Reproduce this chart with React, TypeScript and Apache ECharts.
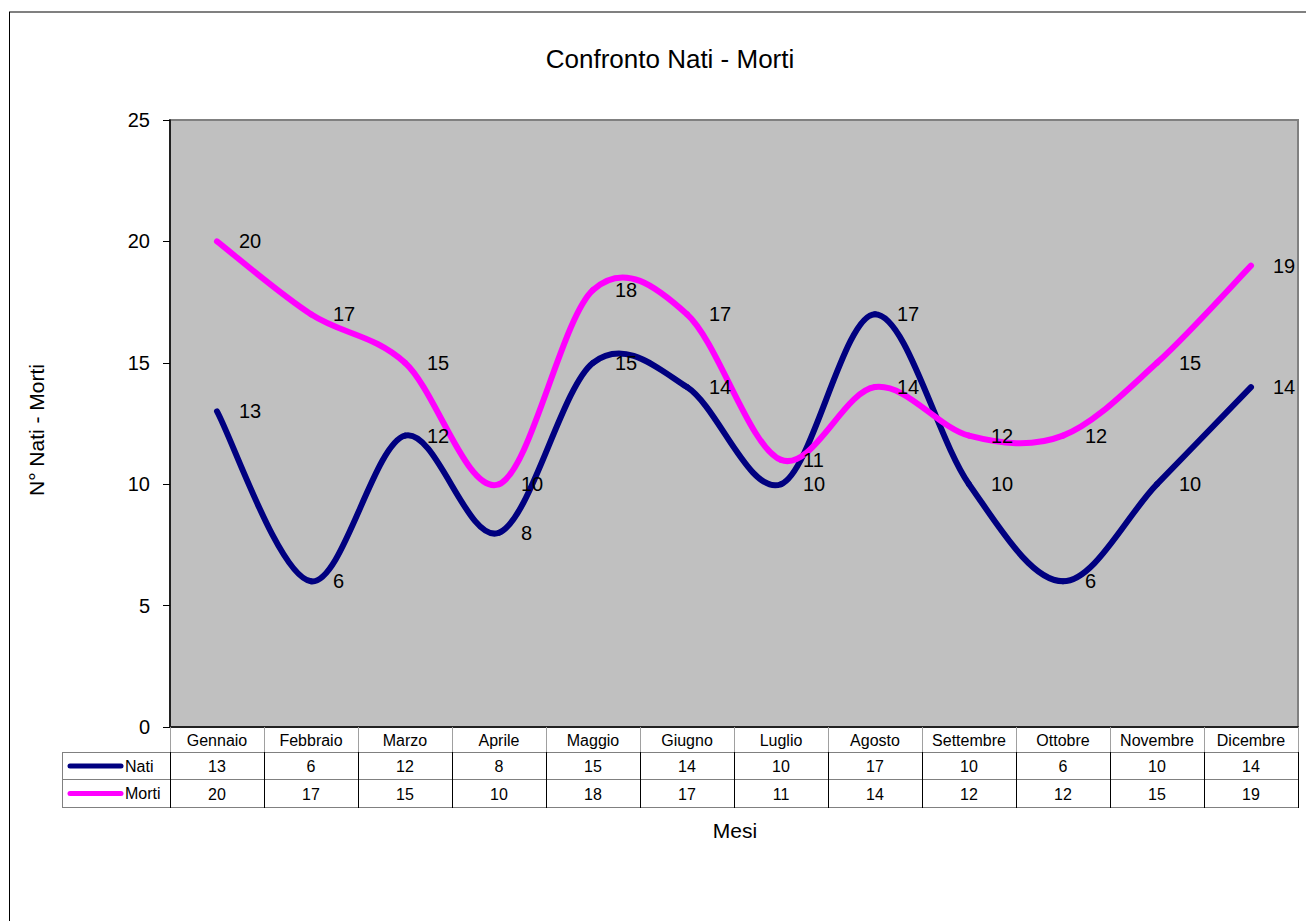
import React, { useEffect, useRef } from "react";
import * as echarts from "echarts";

const months = ["Gennaio", "Febbraio", "Marzo", "Aprile", "Maggio", "Giugno", "Luglio", "Agosto", "Settembre", "Ottobre", "Novembre", "Dicembre"];
const nati = [13, 6, 12, 8, 15, 14, 10, 17, 10, 6, 10, 14];
const morti = [20, 17, 15, 10, 18, 17, 11, 14, 12, 12, 15, 19];
const seriesNames = ["Nati", "Morti"];
const seriesColors = ["#000080", "#FF00FF"];
const yTicks = { min: 0, max: 25, interval: 5 };
const titleText = "Confronto Nati - Morti";
const yTitle = "N° Nati - Morti";
const xTitle = "Mesi";

const FONT = "'Liberation Sans', Arial, Helvetica, sans-serif";

function makeSmoothSeries(name: string, values: number[], color: string) {
  return {
    name,
    type: "custom",
    data: values.map((v, i) => [i, v]),
    encode: { x: 0, y: 1 },
    z: 3,
    renderItem: (params: any, api: any) => {
      const i = params.dataIndex;
      const n = values.length;
      const P = (j: number) => {
        const k = Math.max(0, Math.min(n - 1, j));
        return api.coord([k, values[k]]);
      };
      const p1 = P(i);
      const children: any[] = [];
      if (i < n - 1) {
        const p0 = P(i - 1);
        const p2 = P(i + 1);
        const p3 = P(i + 2);
        children.push({
          type: "bezierCurve",
          shape: {
            x1: p1[0], y1: p1[1],
            cpx1: p1[0] + (p2[0] - p0[0]) / 6, cpy1: p1[1] + (p2[1] - p0[1]) / 6,
            cpx2: p2[0] - (p3[0] - p1[0]) / 6, cpy2: p2[1] - (p3[1] - p1[1]) / 6,
            x2: p2[0], y2: p2[1],
          },
          style: { stroke: color, lineWidth: 6, fill: null, lineCap: "round", lineJoin: "round" },
          z2: 1,
        });
      }
      children.push({
        type: "text",
        x: p1[0] + 22,
        y: p1[1],
        z2: 100,
        style: { text: String(values[i]), fontSize: 20, fontFamily: FONT, fill: "#000", align: "left", verticalAlign: "middle" },
      });
      return { type: "group", children };
    },
  };
}

export default function App() {
  const ref = useRef<HTMLDivElement>(null);
  useEffect(() => {
    if (!ref.current) return;
    const chart = echarts.init(ref.current, null, { renderer: "svg" });
    const W = 1306;
    const H = 921;
    const gL = 170, gR = 1298, gT = 120, gB = 727;
    const n = months.length;
    const cw = (gR - gL) / n;
    const r1 = 752, r2 = 779, r3 = 807;
    const legX = 62;

    const graphics: any[] = [];
    graphics.push({ type: "line", silent: true, shape: { x1: 9, y1: 12, x2: W, y2: 12 }, style: { stroke: "#808080", lineWidth: 2 } });
    graphics.push({ type: "line", silent: true, shape: { x1: 9.5, y1: 12, x2: 9.5, y2: H }, style: { stroke: "#000", lineWidth: 1 } });
    graphics.push({ type: "text", x: 670, y: 59, style: { text: titleText, fontSize: 26, fontFamily: FONT, fill: "#000", align: "center", verticalAlign: "middle" } });
    graphics.push({ type: "text", x: 36, y: 430, rotation: Math.PI / 2, style: { text: yTitle, fontSize: 21, fontFamily: FONT, fill: "#000", align: "center", verticalAlign: "middle" } });
    graphics.push({ type: "text", x: 735, y: 830, style: { text: xTitle, fontSize: 21, fontFamily: FONT, fill: "#000", align: "center", verticalAlign: "middle" } });
    [r1, r2, r3].forEach((y) => {
      graphics.push({ type: "line", silent: true, shape: { x1: legX, y1: y + 0.5, x2: gR, y2: y + 0.5 }, style: { stroke: "#808080", lineWidth: 1 } });
    });
    graphics.push({ type: "line", silent: true, shape: { x1: legX + 0.5, y1: r1, x2: legX + 0.5, y2: r3 + 1 }, style: { stroke: "#808080", lineWidth: 1 } });
    for (let i = 0; i <= n; i++) {
      const x = Math.round(gL + i * cw) + 0.5;
      graphics.push({ type: "line", silent: true, shape: { x1: x, y1: i === 0 || i === n ? gB : r1, x2: x, y2: r3 + 1 }, style: { stroke: "#000", lineWidth: 1 } });
    }
    const rowCenters = [(r1 + r2) / 2 + 0.5, (r2 + r3) / 2 + 0.5];
    seriesNames.forEach((name, k) => {
      graphics.push({ type: "line", silent: true, shape: { x1: 70, y1: rowCenters[k], x2: 121, y2: rowCenters[k] }, style: { stroke: seriesColors[k], lineWidth: 5, lineCap: "round" } });
      graphics.push({ type: "text", x: 125, y: rowCenters[k], style: { text: name, fontSize: 16, fontFamily: FONT, fill: "#000", align: "left", verticalAlign: "middle" } });
    });

    chart.setOption({
      animation: false,
      backgroundColor: "#fff",
      textStyle: { fontFamily: FONT },
      grid: {
        left: gL, top: gT, width: gR - gL, height: gB - gT,
        show: true, backgroundColor: "#C0C0C0", borderColor: "#808080", borderWidth: 2,
      },
      xAxis: {
        type: "category",
        data: months,
        boundaryGap: true,
        axisLine: { show: true, lineStyle: { color: "#222", width: 2 } },
        axisTick: { show: true, inside: false, length: r1 - gB, lineStyle: { color: "#a0a0a0", width: 1 } },
        axisLabel: {
          interval: 0,
          margin: 1,
          color: "#000",
          fontFamily: FONT,
          formatter: (v: string, i: number) => `{c|${v}}\n{a|${nati[i]}}\n{b|${morti[i]}}`,
          rich: {
            c: { fontSize: 16, lineHeight: 25, fontFamily: FONT, color: "#000" },
            a: { fontSize: 16, lineHeight: 27, fontFamily: FONT, color: "#000" },
            b: { fontSize: 16, lineHeight: 28, fontFamily: FONT, color: "#000" },
          },
        },
        splitLine: { show: false },
      },
      yAxis: {
        type: "value",
        min: yTicks.min,
        max: yTicks.max,
        interval: yTicks.interval,
        axisLine: { show: true, lineStyle: { color: "#000", width: 1.5 } },
        axisTick: { show: true, length: 7, lineStyle: { color: "#000" } },
        axisLabel: { fontSize: 20, color: "#000", margin: 20, fontFamily: FONT },
        splitLine: { show: false },
      },
      series: [
        makeSmoothSeries(seriesNames[0], nati, seriesColors[0]),
        makeSmoothSeries(seriesNames[1], morti, seriesColors[1]),
      ],
      graphic: graphics,
    });
    return () => chart.dispose();
  }, []);
  return <div ref={ref} style={{ position: "fixed", left: 0, top: 0, width: 1306, height: 921, background: "#fff" }} />;
}
